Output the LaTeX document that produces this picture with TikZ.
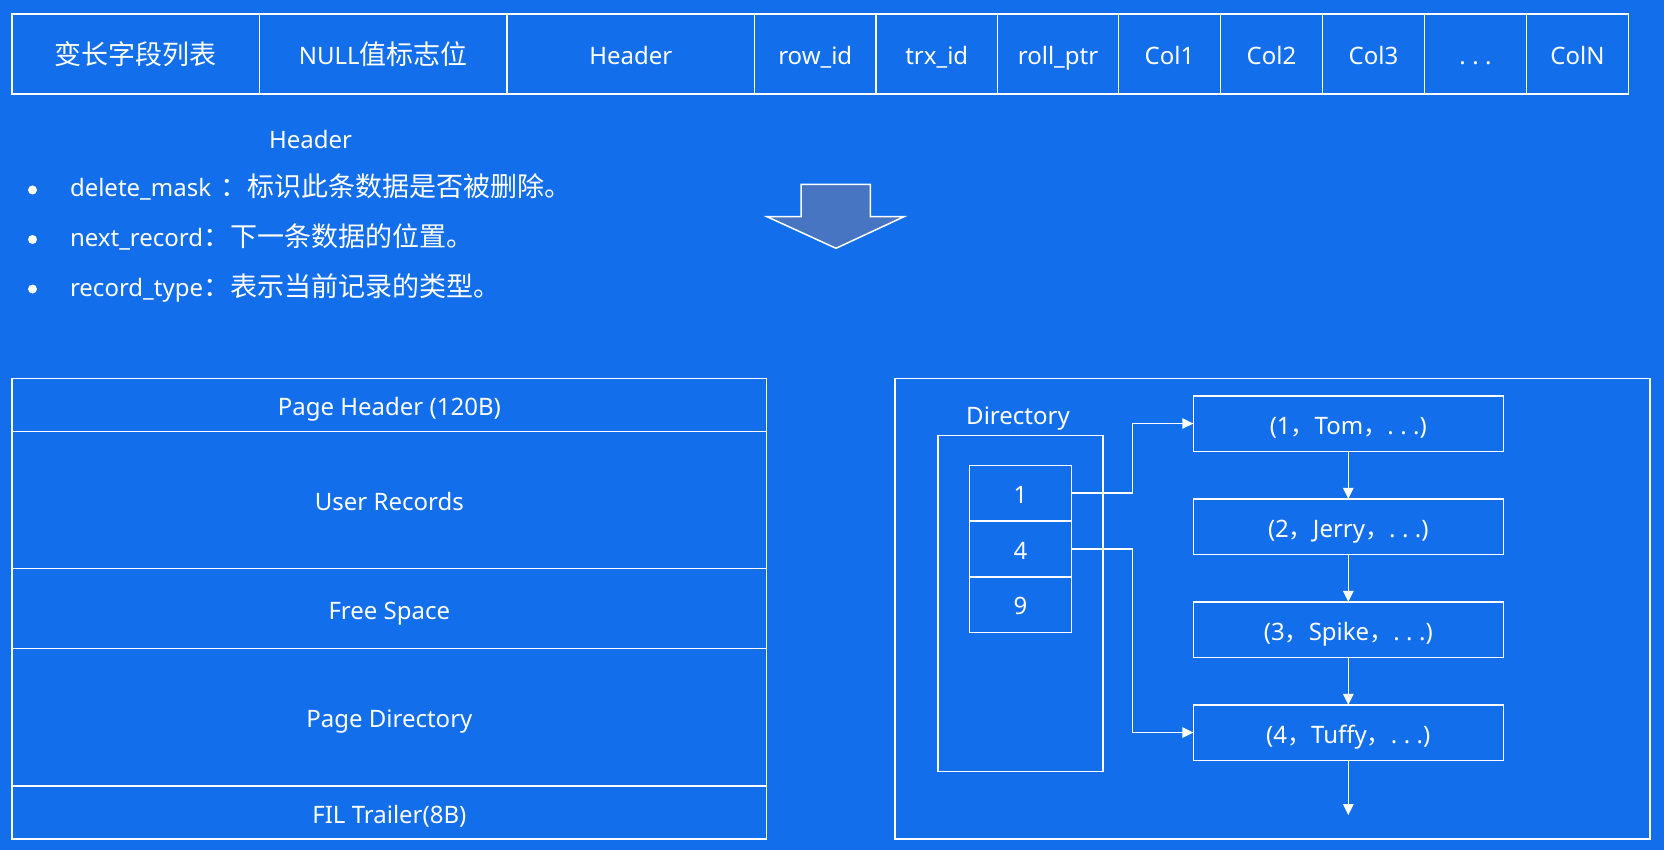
\documentclass[tikz,border=0pt]{standalone}
\usepackage{fontspec}
\setmainfont{Noto Sans}
\newfontfamily\cjkfont{Noto Sans CJK SC}
\usetikzlibrary{arrows.meta}
\definecolor{bgblue}{RGB}{18,110,235}
\definecolor{arrowfill}{RGB}{72,117,194}
% Chinese text in the CJK face
\newcommand\cjktext[1]{{\cjkfont\fontsize{27}{30}\selectfont #1}}
\newcommand\cjkpunct[1]{{\cjkfont\fontsize{24}{28}\selectfont #1}}
% spaced ellipsis
\newcommand\spdots{.\hspace{6.5pt}.\hspace{6.5pt}.}
\begin{document}
\begin{tikzpicture}[x=1pt,y=-1pt,
  every node/.style={text=white, font=\fontsize{24}{28}\selectfont, inner sep=0pt, outer sep=0pt},
  box/.style={draw=white, line width=1.5pt, text height=23pt, text depth=2pt, align=center},
  frame/.style={draw=white, line width=1.5pt},
  topcell/.style={box, minimum height=80pt, text height=24pt, text depth=2pt},
  layer/.style={box, minimum width=754.7pt},
  slot/.style={box, minimum width=102.4pt, minimum height=55.7pt},
  rec/.style={box, minimum width=310pt, minimum height=55.5pt},
  conn/.style={draw=white, line width=1.5pt, -{Triangle[length=11pt,width=10.5pt]}},
  dot/.style={circle, fill=white, minimum size=9pt}
]
\fill[bgblue] (0,0) rectangle (1664,850);
\useasboundingbox (0,0) rectangle (1664,850);

% ---- row format table ----
\node[topcell, minimum width=247.5pt] (f1)  at (135.75,54) {\cjktext{变长字段列表}};
\node[topcell, minimum width=247.5pt] (f2)  at (383.25,54) {NULL\cjktext{值标志位}};
\node[topcell, minimum width=247.5pt] (f3)  at (630.75,54) {Header};
\node[topcell, minimum width=121.5pt] (f4)  at (815.25,54) {row\_id};
\node[topcell, minimum width=121.5pt] (f5)  at (936.75,54) {trx\_id};
\node[topcell, minimum width=121pt]   (f6)  at (1058,54)   {roll\_ptr};
\node[topcell, minimum width=102pt]   (f7)  at (1169.5,54) {Col1};
\node[topcell, minimum width=102pt]   (f8)  at (1271.5,54) {Col2};
\node[topcell, minimum width=102pt]   (f9)  at (1373.5,54) {Col3};
\node[topcell, minimum width=102pt]   (f10) at (1475.5,54) {\spdots};
\node[topcell, minimum width=102pt]   (f11) at (1577.5,54) {ColN};

% ---- header flags ----
\node[anchor=base] (hdr) at (310.5,149) {Header};
\node[dot] (d1) at (32.5,190) {};
\node[dot] (d2) at (32.5,239.5) {};
\node[dot] (d3) at (32.5,289) {};
\node[anchor=base west] (l1) at (70,197)   {delete\_mask\hspace{9pt}\cjktext{：标识此条数据是否被删除。}};
\node[anchor=base west] (l2) at (70,246.5) {next\_record\cjktext{：下一条数据的位置。}};
\node[anchor=base west] (l3) at (70,296)   {record\_type\cjktext{：表示当前记录的类型。}};

% ---- block arrow ----
\filldraw[fill=arrowfill, draw=white, line width=1.5pt, line join=miter]
  (801,184.3) -- (870.3,184.3) -- (870.3,216.7) -- (904,216.7) -- (836,248.3)
  -- (767,216.7) -- (801,216.7) -- cycle;

% ---- page layout ----
\node[layer, minimum height=53.4pt]  (ph) at (389.35,405)    {Page Header (120B)};
\node[layer, minimum height=137pt]   (ur) at (389.35,500.2)  {User Records};
\node[layer, minimum height=80pt]    (fs) at (389.35,608.7)  {Free Space};
\node[layer, minimum height=137.3pt] (pd) at (389.35,717.35) {Page Directory};
\node[layer, minimum height=53pt]    (ft) at (389.35,812.5)  {FIL Trailer(8B)};

% ---- page directory and record list ----
\node[frame, minimum width=755pt, minimum height=460.7pt] (panel) at (1272.5,608.65) {};
\node[anchor=base] (dirlbl) at (1018,424.3) {Directory};
\node[frame, minimum width=165pt, minimum height=336pt] (dir) at (1020.5,603.7) {};
\node[slot] (s1) at (1020.5,493.2) {1};
\node[slot] (s4) at (1020.5,548.9) {4};
\node[slot] (s9) at (1020.5,604.4) {9};

\node[rec] (r1) at (1348.3,423.5) {(1\cjkpunct{，}Tom\cjkpunct{，}\spdots)};
\node[rec] (r2) at (1348.3,526.5) {(2\cjkpunct{，}Jerry\cjkpunct{，}\spdots)};
\node[rec] (r3) at (1348.3,629.5) {(3\cjkpunct{，}Spike\cjkpunct{，}\spdots)};
\node[rec] (r4) at (1348.3,732.5) {(4\cjkpunct{，}Tuffy\cjkpunct{，}\spdots)};

\coordinate (jx) at (1132.3,0);
\coordinate (tail) at (1348.3,815);

\draw[conn] (s1.east) -- (s1.east -| jx) |- (r1.west);
\draw[conn] (s4.east) -- (s4.east -| jx) |- (r4.west);
\draw[conn] (r1.south) -- (r2.north);
\draw[conn] (r2.south) -- (r3.north);
\draw[conn] (r3.south) -- (r4.north);
\draw[conn] (r4.south) -- (tail);
\end{tikzpicture}
\end{document}
